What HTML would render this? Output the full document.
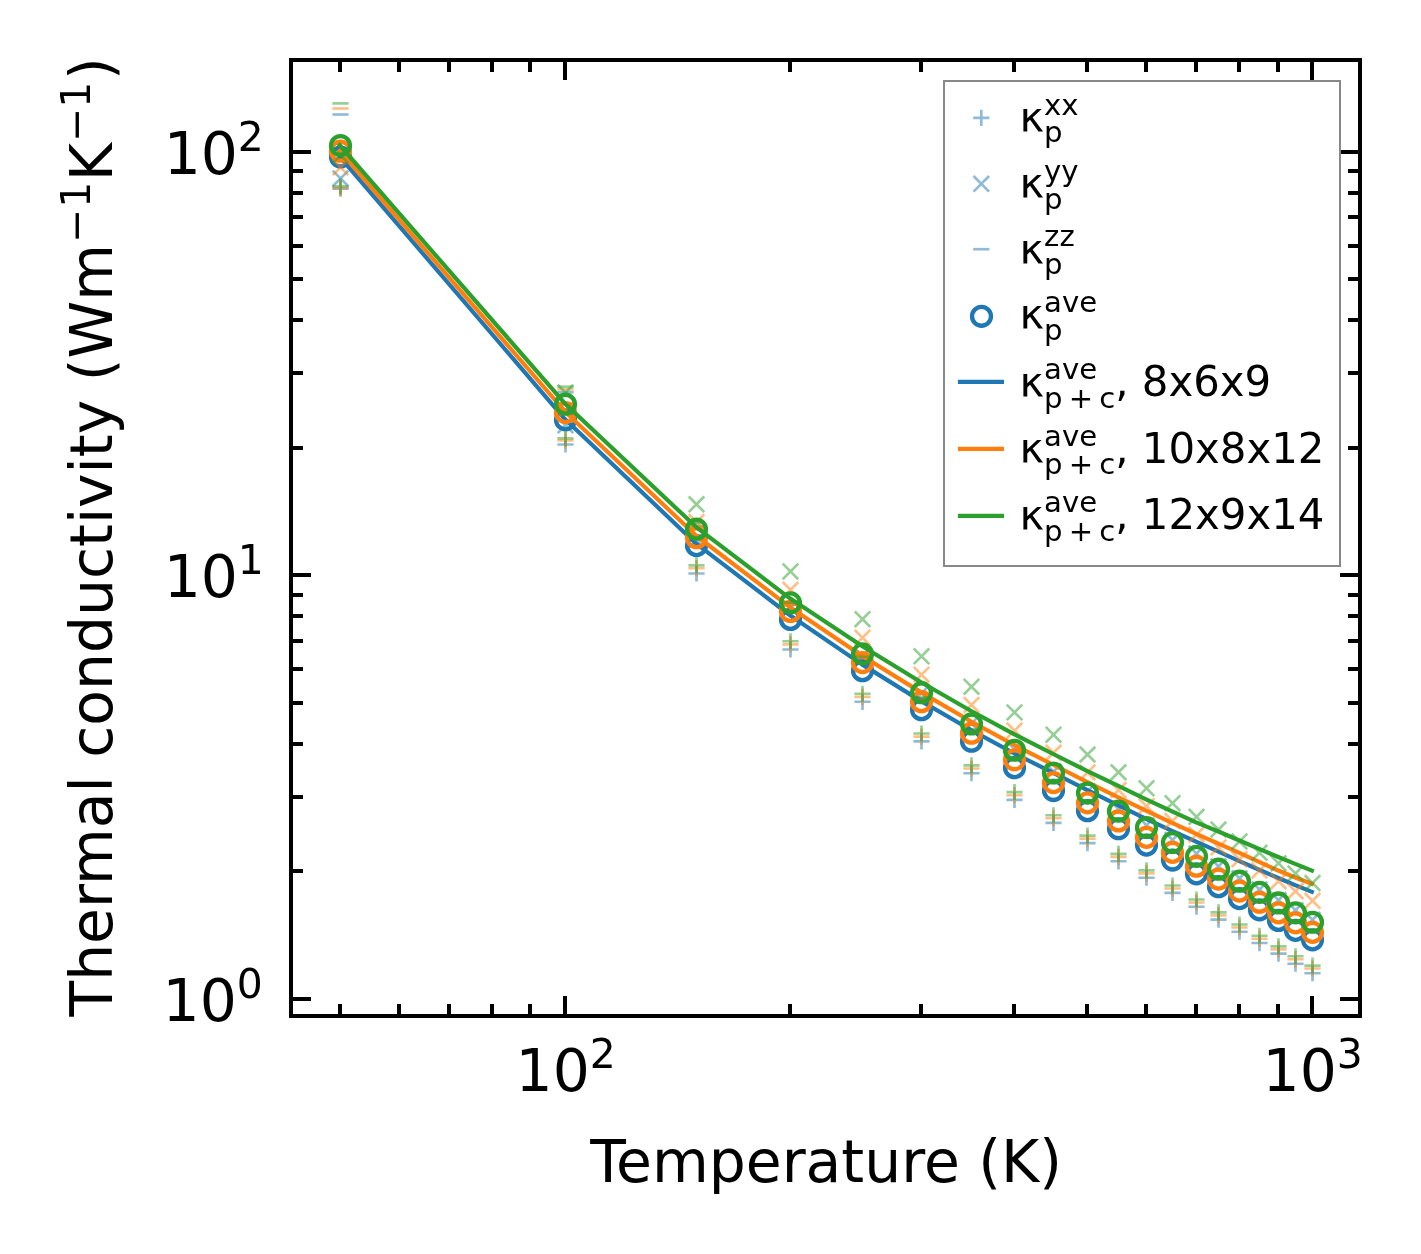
<!DOCTYPE html>
<html><head><meta charset="utf-8"><title>Thermal conductivity</title><style>html,body{margin:0;padding:0;background:#fff}</style></head><body>
<svg width="1421" height="1254" viewBox="0 0 1421 1254" style="display:block">
<rect width="1421" height="1254" fill="#fff"/>
<defs><clipPath id="ax"><rect x="291.0" y="60.0" width="1069.0" height="956.0"/></clipPath></defs>
<g clip-path="url(#ax)">
<g><path d="M332.40 188.60H348.60M340.50 180.50V196.70" stroke="#1f77b4" stroke-width="2.65" stroke-opacity="0.5" fill="none"/><path d="M557.40 444.50H573.60M565.50 436.40V452.60" stroke="#1f77b4" stroke-width="2.65" stroke-opacity="0.5" fill="none"/><path d="M688.40 573.50H704.60M696.50 565.40V581.60" stroke="#1f77b4" stroke-width="2.65" stroke-opacity="0.5" fill="none"/><path d="M782.40 649.45H798.60M790.50 641.35V657.55" stroke="#1f77b4" stroke-width="2.65" stroke-opacity="0.5" fill="none"/><path d="M854.40 701.79H870.60M862.50 693.69V709.89" stroke="#1f77b4" stroke-width="2.65" stroke-opacity="0.5" fill="none"/><path d="M913.40 741.40H929.60M921.50 733.30V749.50" stroke="#1f77b4" stroke-width="2.65" stroke-opacity="0.5" fill="none"/><path d="M963.40 773.22H979.60M971.50 765.12V781.32" stroke="#1f77b4" stroke-width="2.65" stroke-opacity="0.5" fill="none"/><path d="M1006.40 799.88H1022.60M1014.50 791.78V807.98" stroke="#1f77b4" stroke-width="2.65" stroke-opacity="0.5" fill="none"/><path d="M1045.40 822.87H1061.60M1053.50 814.77V830.97" stroke="#1f77b4" stroke-width="2.65" stroke-opacity="0.5" fill="none"/><path d="M1079.40 843.13H1095.60M1087.50 835.03V851.23" stroke="#1f77b4" stroke-width="2.65" stroke-opacity="0.5" fill="none"/><path d="M1110.40 861.28H1126.60M1118.50 853.18V869.38" stroke="#1f77b4" stroke-width="2.65" stroke-opacity="0.5" fill="none"/><path d="M1138.40 877.74H1154.60M1146.50 869.64V885.84" stroke="#1f77b4" stroke-width="2.65" stroke-opacity="0.5" fill="none"/><path d="M1164.40 892.82H1180.60M1172.50 884.72V900.92" stroke="#1f77b4" stroke-width="2.65" stroke-opacity="0.5" fill="none"/><path d="M1188.40 906.74H1204.60M1196.50 898.64V914.84" stroke="#1f77b4" stroke-width="2.65" stroke-opacity="0.5" fill="none"/><path d="M1210.40 919.66H1226.60M1218.50 911.56V927.76" stroke="#1f77b4" stroke-width="2.65" stroke-opacity="0.5" fill="none"/><path d="M1231.40 931.73H1247.60M1239.50 923.63V939.83" stroke="#1f77b4" stroke-width="2.65" stroke-opacity="0.5" fill="none"/><path d="M1251.40 943.04H1267.60M1259.50 934.94V951.14" stroke="#1f77b4" stroke-width="2.65" stroke-opacity="0.5" fill="none"/><path d="M1270.40 953.68H1286.60M1278.50 945.58V961.78" stroke="#1f77b4" stroke-width="2.65" stroke-opacity="0.5" fill="none"/><path d="M1287.40 963.73H1303.60M1295.50 955.63V971.83" stroke="#1f77b4" stroke-width="2.65" stroke-opacity="0.5" fill="none"/><path d="M1304.40 973.23H1320.60M1312.50 965.13V981.33" stroke="#1f77b4" stroke-width="2.65" stroke-opacity="0.5" fill="none"/></g>
<g><path d="M332.70 170.60L348.30 186.20M332.70 186.20L348.30 170.60" stroke="#1f77b4" stroke-width="2.65" stroke-opacity="0.5" fill="none"/><path d="M557.70 417.49L573.30 433.09M557.70 433.09L573.30 417.49" stroke="#1f77b4" stroke-width="2.65" stroke-opacity="0.5" fill="none"/><path d="M688.70 532.09L704.30 547.69M688.70 547.69L704.30 532.09" stroke="#1f77b4" stroke-width="2.65" stroke-opacity="0.5" fill="none"/><path d="M782.70 600.12L798.30 615.72M782.70 615.72L798.30 600.12" stroke="#1f77b4" stroke-width="2.65" stroke-opacity="0.5" fill="none"/><path d="M854.70 648.16L870.30 663.76M854.70 663.76L870.30 648.16" stroke="#1f77b4" stroke-width="2.65" stroke-opacity="0.5" fill="none"/><path d="M913.70 685.32L929.30 700.92M913.70 700.92L929.30 685.32" stroke="#1f77b4" stroke-width="2.65" stroke-opacity="0.5" fill="none"/><path d="M963.70 715.68L979.30 731.28M963.70 731.28L979.30 715.68" stroke="#1f77b4" stroke-width="2.65" stroke-opacity="0.5" fill="none"/><path d="M1006.70 741.39L1022.30 756.99M1006.70 756.99L1022.30 741.39" stroke="#1f77b4" stroke-width="2.65" stroke-opacity="0.5" fill="none"/><path d="M1045.70 763.71L1061.30 779.31M1045.70 779.31L1061.30 763.71" stroke="#1f77b4" stroke-width="2.65" stroke-opacity="0.5" fill="none"/><path d="M1079.70 783.47L1095.30 799.07M1079.70 799.07L1095.30 783.47" stroke="#1f77b4" stroke-width="2.65" stroke-opacity="0.5" fill="none"/><path d="M1110.70 801.22L1126.30 816.82M1110.70 816.82L1126.30 801.22" stroke="#1f77b4" stroke-width="2.65" stroke-opacity="0.5" fill="none"/><path d="M1138.70 817.34L1154.30 832.94M1138.70 832.94L1154.30 817.34" stroke="#1f77b4" stroke-width="2.65" stroke-opacity="0.5" fill="none"/><path d="M1164.70 832.13L1180.30 847.73M1164.70 847.73L1180.30 832.13" stroke="#1f77b4" stroke-width="2.65" stroke-opacity="0.5" fill="none"/><path d="M1188.70 845.80L1204.30 861.40M1188.70 861.40L1204.30 845.80" stroke="#1f77b4" stroke-width="2.65" stroke-opacity="0.5" fill="none"/><path d="M1210.70 858.54L1226.30 874.14M1210.70 874.14L1226.30 858.54" stroke="#1f77b4" stroke-width="2.65" stroke-opacity="0.5" fill="none"/><path d="M1231.70 870.46L1247.30 886.06M1231.70 886.06L1247.30 870.46" stroke="#1f77b4" stroke-width="2.65" stroke-opacity="0.5" fill="none"/><path d="M1251.70 881.69L1267.30 897.29M1251.70 897.29L1267.30 881.69" stroke="#1f77b4" stroke-width="2.65" stroke-opacity="0.5" fill="none"/><path d="M1270.70 892.31L1286.30 907.91M1270.70 907.91L1286.30 892.31" stroke="#1f77b4" stroke-width="2.65" stroke-opacity="0.5" fill="none"/><path d="M1287.70 902.39L1303.30 917.99M1287.70 917.99L1303.30 902.39" stroke="#1f77b4" stroke-width="2.65" stroke-opacity="0.5" fill="none"/><path d="M1304.70 912.01L1320.30 927.61M1304.70 927.61L1320.30 912.01" stroke="#1f77b4" stroke-width="2.65" stroke-opacity="0.5" fill="none"/></g>
<g><path d="M332.40 114.50H348.60" stroke="#1f77b4" stroke-width="2.65" stroke-opacity="0.5" fill="none"/><path d="M557.40 392.30H573.60" stroke="#1f77b4" stroke-width="2.65" stroke-opacity="0.5" fill="none"/><path d="M688.40 526.47H704.60" stroke="#1f77b4" stroke-width="2.65" stroke-opacity="0.5" fill="none"/><path d="M782.40 604.33H798.60" stroke="#1f77b4" stroke-width="2.65" stroke-opacity="0.5" fill="none"/><path d="M854.40 657.89H870.60" stroke="#1f77b4" stroke-width="2.65" stroke-opacity="0.5" fill="none"/><path d="M913.40 698.33H929.60" stroke="#1f77b4" stroke-width="2.65" stroke-opacity="0.5" fill="none"/><path d="M963.40 730.76H979.60" stroke="#1f77b4" stroke-width="2.65" stroke-opacity="0.5" fill="none"/><path d="M1006.40 757.86H1022.60" stroke="#1f77b4" stroke-width="2.65" stroke-opacity="0.5" fill="none"/><path d="M1045.40 781.17H1061.60" stroke="#1f77b4" stroke-width="2.65" stroke-opacity="0.5" fill="none"/><path d="M1079.40 801.65H1095.60" stroke="#1f77b4" stroke-width="2.65" stroke-opacity="0.5" fill="none"/><path d="M1110.40 819.94H1126.60" stroke="#1f77b4" stroke-width="2.65" stroke-opacity="0.5" fill="none"/><path d="M1138.40 836.47H1154.60" stroke="#1f77b4" stroke-width="2.65" stroke-opacity="0.5" fill="none"/><path d="M1164.40 851.55H1180.60" stroke="#1f77b4" stroke-width="2.65" stroke-opacity="0.5" fill="none"/><path d="M1188.40 865.42H1204.60" stroke="#1f77b4" stroke-width="2.65" stroke-opacity="0.5" fill="none"/><path d="M1210.40 878.24H1226.60" stroke="#1f77b4" stroke-width="2.65" stroke-opacity="0.5" fill="none"/><path d="M1231.40 890.17H1247.60" stroke="#1f77b4" stroke-width="2.65" stroke-opacity="0.5" fill="none"/><path d="M1251.40 901.30H1267.60" stroke="#1f77b4" stroke-width="2.65" stroke-opacity="0.5" fill="none"/><path d="M1270.40 911.73H1286.60" stroke="#1f77b4" stroke-width="2.65" stroke-opacity="0.5" fill="none"/><path d="M1287.40 921.53H1303.60" stroke="#1f77b4" stroke-width="2.65" stroke-opacity="0.5" fill="none"/><path d="M1304.40 930.75H1320.60" stroke="#1f77b4" stroke-width="2.65" stroke-opacity="0.5" fill="none"/></g>
<g><circle cx="340.50" cy="157.00" r="9.45" stroke="#1f77b4" stroke-width="4.3" fill="none"/><circle cx="565.50" cy="419.91" r="9.45" stroke="#1f77b4" stroke-width="4.3" fill="none"/><circle cx="696.50" cy="545.58" r="9.45" stroke="#1f77b4" stroke-width="4.3" fill="none"/><circle cx="790.50" cy="619.46" r="9.45" stroke="#1f77b4" stroke-width="4.3" fill="none"/><circle cx="862.50" cy="670.70" r="9.45" stroke="#1f77b4" stroke-width="4.3" fill="none"/><circle cx="921.50" cy="709.71" r="9.45" stroke="#1f77b4" stroke-width="4.3" fill="none"/><circle cx="971.50" cy="741.22" r="9.45" stroke="#1f77b4" stroke-width="4.3" fill="none"/><circle cx="1014.50" cy="767.68" r="9.45" stroke="#1f77b4" stroke-width="4.3" fill="none"/><circle cx="1053.50" cy="790.54" r="9.45" stroke="#1f77b4" stroke-width="4.3" fill="none"/><circle cx="1087.50" cy="810.69" r="9.45" stroke="#1f77b4" stroke-width="4.3" fill="none"/><circle cx="1118.50" cy="828.74" r="9.45" stroke="#1f77b4" stroke-width="4.3" fill="none"/><circle cx="1146.50" cy="845.10" r="9.45" stroke="#1f77b4" stroke-width="4.3" fill="none"/><circle cx="1172.50" cy="860.07" r="9.45" stroke="#1f77b4" stroke-width="4.3" fill="none"/><circle cx="1196.50" cy="873.88" r="9.45" stroke="#1f77b4" stroke-width="4.3" fill="none"/><circle cx="1218.50" cy="886.70" r="9.45" stroke="#1f77b4" stroke-width="4.3" fill="none"/><circle cx="1239.50" cy="898.66" r="9.45" stroke="#1f77b4" stroke-width="4.3" fill="none"/><circle cx="1259.50" cy="909.88" r="9.45" stroke="#1f77b4" stroke-width="4.3" fill="none"/><circle cx="1278.50" cy="920.44" r="9.45" stroke="#1f77b4" stroke-width="4.3" fill="none"/><circle cx="1295.50" cy="930.41" r="9.45" stroke="#1f77b4" stroke-width="4.3" fill="none"/><circle cx="1312.50" cy="939.86" r="9.45" stroke="#1f77b4" stroke-width="4.3" fill="none"/></g>
<polyline points="339.70,156.65 564.63,418.83 696.21,543.68 789.56,615.02 861.97,664.39 921.14,701.13 971.16,730.05 1014.49,753.53 1052.71,772.60 1086.90,789.96 1117.83,805.11 1146.06,818.77 1172.04,830.90 1196.09,841.67 1218.48,851.69 1239.42,861.15 1259.09,869.78 1277.64,877.74 1295.19,885.12 1311.83,891.87" fill="none" stroke="#1f77b4" stroke-width="4.17" stroke-linejoin="round" stroke-linecap="square"/>
<g><path d="M332.40 187.80H348.60M340.50 179.70V195.90" stroke="#ff7f0e" stroke-width="2.65" stroke-opacity="0.5" fill="none"/><path d="M557.40 440.41H573.60M565.50 432.31V448.51" stroke="#ff7f0e" stroke-width="2.65" stroke-opacity="0.5" fill="none"/><path d="M688.40 568.27H704.60M696.50 560.17V576.37" stroke="#ff7f0e" stroke-width="2.65" stroke-opacity="0.5" fill="none"/><path d="M782.40 644.37H798.60M790.50 636.27V652.47" stroke="#ff7f0e" stroke-width="2.65" stroke-opacity="0.5" fill="none"/><path d="M854.40 696.88H870.60M862.50 688.78V704.98" stroke="#ff7f0e" stroke-width="2.65" stroke-opacity="0.5" fill="none"/><path d="M913.40 736.59H929.60M921.50 728.49V744.69" stroke="#ff7f0e" stroke-width="2.65" stroke-opacity="0.5" fill="none"/><path d="M963.40 768.49H979.60M971.50 760.39V776.59" stroke="#ff7f0e" stroke-width="2.65" stroke-opacity="0.5" fill="none"/><path d="M1006.40 795.21H1022.60M1014.50 787.11V803.31" stroke="#ff7f0e" stroke-width="2.65" stroke-opacity="0.5" fill="none"/><path d="M1045.40 818.28H1061.60M1053.50 810.18V826.38" stroke="#ff7f0e" stroke-width="2.65" stroke-opacity="0.5" fill="none"/><path d="M1079.40 838.63H1095.60M1087.50 830.53V846.73" stroke="#ff7f0e" stroke-width="2.65" stroke-opacity="0.5" fill="none"/><path d="M1110.40 856.86H1126.60M1118.50 848.76V864.96" stroke="#ff7f0e" stroke-width="2.65" stroke-opacity="0.5" fill="none"/><path d="M1138.40 873.40H1154.60M1146.50 865.30V881.50" stroke="#ff7f0e" stroke-width="2.65" stroke-opacity="0.5" fill="none"/><path d="M1164.40 888.54H1180.60M1172.50 880.44V896.64" stroke="#ff7f0e" stroke-width="2.65" stroke-opacity="0.5" fill="none"/><path d="M1188.40 902.50H1204.60M1196.50 894.40V910.60" stroke="#ff7f0e" stroke-width="2.65" stroke-opacity="0.5" fill="none"/><path d="M1210.40 915.44H1226.60M1218.50 907.34V923.54" stroke="#ff7f0e" stroke-width="2.65" stroke-opacity="0.5" fill="none"/><path d="M1231.40 927.49H1247.60M1239.50 919.39V935.59" stroke="#ff7f0e" stroke-width="2.65" stroke-opacity="0.5" fill="none"/><path d="M1251.40 938.75H1267.60M1259.50 930.65V946.85" stroke="#ff7f0e" stroke-width="2.65" stroke-opacity="0.5" fill="none"/><path d="M1270.40 949.30H1286.60M1278.50 941.20V957.40" stroke="#ff7f0e" stroke-width="2.65" stroke-opacity="0.5" fill="none"/><path d="M1287.40 959.20H1303.60M1295.50 951.10V967.30" stroke="#ff7f0e" stroke-width="2.65" stroke-opacity="0.5" fill="none"/><path d="M1304.40 968.52H1320.60M1312.50 960.42V976.62" stroke="#ff7f0e" stroke-width="2.65" stroke-opacity="0.5" fill="none"/></g>
<g><path d="M332.70 159.50L348.30 175.10M332.70 175.10L348.30 159.50" stroke="#ff7f0e" stroke-width="2.65" stroke-opacity="0.5" fill="none"/><path d="M557.70 402.19L573.30 417.79M557.70 417.79L573.30 402.19" stroke="#ff7f0e" stroke-width="2.65" stroke-opacity="0.5" fill="none"/><path d="M688.70 514.29L704.30 529.89M688.70 529.89L704.30 514.29" stroke="#ff7f0e" stroke-width="2.65" stroke-opacity="0.5" fill="none"/><path d="M782.70 581.97L798.30 597.57M782.70 597.57L798.30 581.97" stroke="#ff7f0e" stroke-width="2.65" stroke-opacity="0.5" fill="none"/><path d="M854.70 629.89L870.30 645.49M854.70 645.49L870.30 629.89" stroke="#ff7f0e" stroke-width="2.65" stroke-opacity="0.5" fill="none"/><path d="M913.70 666.92L929.30 682.52M913.70 682.52L929.30 666.92" stroke="#ff7f0e" stroke-width="2.65" stroke-opacity="0.5" fill="none"/><path d="M963.70 697.14L979.30 712.74M963.70 712.74L979.30 697.14" stroke="#ff7f0e" stroke-width="2.65" stroke-opacity="0.5" fill="none"/><path d="M1006.70 722.72L1022.30 738.32M1006.70 738.32L1022.30 722.72" stroke="#ff7f0e" stroke-width="2.65" stroke-opacity="0.5" fill="none"/><path d="M1045.70 744.94L1061.30 760.54M1045.70 760.54L1061.30 744.94" stroke="#ff7f0e" stroke-width="2.65" stroke-opacity="0.5" fill="none"/><path d="M1079.70 764.61L1095.30 780.21M1079.70 780.21L1095.30 764.61" stroke="#ff7f0e" stroke-width="2.65" stroke-opacity="0.5" fill="none"/><path d="M1110.70 782.30L1126.30 797.90M1110.70 797.90L1126.30 782.30" stroke="#ff7f0e" stroke-width="2.65" stroke-opacity="0.5" fill="none"/><path d="M1138.70 798.39L1154.30 813.99M1138.70 813.99L1154.30 798.39" stroke="#ff7f0e" stroke-width="2.65" stroke-opacity="0.5" fill="none"/><path d="M1164.70 813.17L1180.30 828.77M1164.70 828.77L1180.30 813.17" stroke="#ff7f0e" stroke-width="2.65" stroke-opacity="0.5" fill="none"/><path d="M1188.70 826.84L1204.30 842.44M1188.70 842.44L1204.30 826.84" stroke="#ff7f0e" stroke-width="2.65" stroke-opacity="0.5" fill="none"/><path d="M1210.70 839.58L1226.30 855.18M1210.70 855.18L1226.30 839.58" stroke="#ff7f0e" stroke-width="2.65" stroke-opacity="0.5" fill="none"/><path d="M1231.70 851.52L1247.30 867.12M1231.70 867.12L1247.30 851.52" stroke="#ff7f0e" stroke-width="2.65" stroke-opacity="0.5" fill="none"/><path d="M1251.70 862.75L1267.30 878.35M1251.70 878.35L1267.30 862.75" stroke="#ff7f0e" stroke-width="2.65" stroke-opacity="0.5" fill="none"/><path d="M1270.70 873.38L1286.30 888.98M1270.70 888.98L1286.30 873.38" stroke="#ff7f0e" stroke-width="2.65" stroke-opacity="0.5" fill="none"/><path d="M1287.70 883.46L1303.30 899.06M1287.70 899.06L1303.30 883.46" stroke="#ff7f0e" stroke-width="2.65" stroke-opacity="0.5" fill="none"/><path d="M1304.70 893.06L1320.30 908.66M1304.70 908.66L1320.30 893.06" stroke="#ff7f0e" stroke-width="2.65" stroke-opacity="0.5" fill="none"/></g>
<g><path d="M332.40 108.50H348.60" stroke="#ff7f0e" stroke-width="2.65" stroke-opacity="0.5" fill="none"/><path d="M557.40 389.40H573.60" stroke="#ff7f0e" stroke-width="2.65" stroke-opacity="0.5" fill="none"/><path d="M688.40 526.30H704.60" stroke="#ff7f0e" stroke-width="2.65" stroke-opacity="0.5" fill="none"/><path d="M782.40 604.43H798.60" stroke="#ff7f0e" stroke-width="2.65" stroke-opacity="0.5" fill="none"/><path d="M854.40 658.18H870.60" stroke="#ff7f0e" stroke-width="2.65" stroke-opacity="0.5" fill="none"/><path d="M913.40 698.93H929.60" stroke="#ff7f0e" stroke-width="2.65" stroke-opacity="0.5" fill="none"/><path d="M963.40 731.70H979.60" stroke="#ff7f0e" stroke-width="2.65" stroke-opacity="0.5" fill="none"/><path d="M1006.40 759.13H1022.60" stroke="#ff7f0e" stroke-width="2.65" stroke-opacity="0.5" fill="none"/><path d="M1045.40 782.73H1061.60" stroke="#ff7f0e" stroke-width="2.65" stroke-opacity="0.5" fill="none"/><path d="M1079.40 802.45H1095.60" stroke="#ff7f0e" stroke-width="2.65" stroke-opacity="0.5" fill="none"/><path d="M1110.40 820.93H1126.60" stroke="#ff7f0e" stroke-width="2.65" stroke-opacity="0.5" fill="none"/><path d="M1138.40 836.60H1154.60" stroke="#ff7f0e" stroke-width="2.65" stroke-opacity="0.5" fill="none"/><path d="M1164.40 851.80H1180.60" stroke="#ff7f0e" stroke-width="2.65" stroke-opacity="0.5" fill="none"/><path d="M1188.40 865.77H1204.60" stroke="#ff7f0e" stroke-width="2.65" stroke-opacity="0.5" fill="none"/><path d="M1210.40 878.69H1226.60" stroke="#ff7f0e" stroke-width="2.65" stroke-opacity="0.5" fill="none"/><path d="M1231.40 890.71H1247.60" stroke="#ff7f0e" stroke-width="2.65" stroke-opacity="0.5" fill="none"/><path d="M1251.40 901.95H1267.60" stroke="#ff7f0e" stroke-width="2.65" stroke-opacity="0.5" fill="none"/><path d="M1270.40 912.50H1286.60" stroke="#ff7f0e" stroke-width="2.65" stroke-opacity="0.5" fill="none"/><path d="M1287.40 922.45H1303.60" stroke="#ff7f0e" stroke-width="2.65" stroke-opacity="0.5" fill="none"/><path d="M1304.40 931.85H1320.60" stroke="#ff7f0e" stroke-width="2.65" stroke-opacity="0.5" fill="none"/></g>
<g><circle cx="340.50" cy="151.20" r="9.45" stroke="#ff7f0e" stroke-width="4.3" fill="none"/><circle cx="565.50" cy="412.63" r="9.45" stroke="#ff7f0e" stroke-width="4.3" fill="none"/><circle cx="696.50" cy="537.73" r="9.45" stroke="#ff7f0e" stroke-width="4.3" fill="none"/><circle cx="790.50" cy="611.44" r="9.45" stroke="#ff7f0e" stroke-width="4.3" fill="none"/><circle cx="862.50" cy="662.64" r="9.45" stroke="#ff7f0e" stroke-width="4.3" fill="none"/><circle cx="921.50" cy="701.68" r="9.45" stroke="#ff7f0e" stroke-width="4.3" fill="none"/><circle cx="971.50" cy="733.22" r="9.45" stroke="#ff7f0e" stroke-width="4.3" fill="none"/><circle cx="1014.50" cy="759.73" r="9.45" stroke="#ff7f0e" stroke-width="4.3" fill="none"/><circle cx="1053.50" cy="782.65" r="9.45" stroke="#ff7f0e" stroke-width="4.3" fill="none"/><circle cx="1087.50" cy="802.85" r="9.45" stroke="#ff7f0e" stroke-width="4.3" fill="none"/><circle cx="1118.50" cy="820.95" r="9.45" stroke="#ff7f0e" stroke-width="4.3" fill="none"/><circle cx="1146.50" cy="837.36" r="9.45" stroke="#ff7f0e" stroke-width="4.3" fill="none"/><circle cx="1172.50" cy="852.38" r="9.45" stroke="#ff7f0e" stroke-width="4.3" fill="none"/><circle cx="1196.50" cy="866.23" r="9.45" stroke="#ff7f0e" stroke-width="4.3" fill="none"/><circle cx="1218.50" cy="879.08" r="9.45" stroke="#ff7f0e" stroke-width="4.3" fill="none"/><circle cx="1239.50" cy="891.08" r="9.45" stroke="#ff7f0e" stroke-width="4.3" fill="none"/><circle cx="1259.50" cy="902.32" r="9.45" stroke="#ff7f0e" stroke-width="4.3" fill="none"/><circle cx="1278.50" cy="912.90" r="9.45" stroke="#ff7f0e" stroke-width="4.3" fill="none"/><circle cx="1295.50" cy="922.89" r="9.45" stroke="#ff7f0e" stroke-width="4.3" fill="none"/><circle cx="1312.50" cy="932.34" r="9.45" stroke="#ff7f0e" stroke-width="4.3" fill="none"/></g>
<polyline points="339.70,150.96 564.63,411.15 696.21,535.74 789.56,606.91 861.97,655.74 921.14,692.39 971.16,721.46 1014.49,745.09 1052.71,764.51 1086.90,781.82 1117.83,797.02 1146.06,810.74 1172.04,822.96 1196.09,833.92 1218.48,843.57 1239.42,852.96 1259.09,861.91 1277.64,870.30 1295.19,877.50 1311.83,883.77" fill="none" stroke="#ff7f0e" stroke-width="4.17" stroke-linejoin="round" stroke-linecap="square"/>
<g><path d="M332.40 186.20H348.60M340.50 178.10V194.30" stroke="#2ca02c" stroke-width="2.65" stroke-opacity="0.5" fill="none"/><path d="M557.40 438.22H573.60M565.50 430.12V446.32" stroke="#2ca02c" stroke-width="2.65" stroke-opacity="0.5" fill="none"/><path d="M688.40 565.30H704.60M696.50 557.20V573.40" stroke="#2ca02c" stroke-width="2.65" stroke-opacity="0.5" fill="none"/><path d="M782.40 641.24H798.60M790.50 633.14V649.34" stroke="#2ca02c" stroke-width="2.65" stroke-opacity="0.5" fill="none"/><path d="M854.40 693.76H870.60M862.50 685.66V701.86" stroke="#2ca02c" stroke-width="2.65" stroke-opacity="0.5" fill="none"/><path d="M913.40 733.50H929.60M921.50 725.40V741.60" stroke="#2ca02c" stroke-width="2.65" stroke-opacity="0.5" fill="none"/><path d="M963.40 765.44H979.60M971.50 757.34V773.54" stroke="#2ca02c" stroke-width="2.65" stroke-opacity="0.5" fill="none"/><path d="M1006.40 792.19H1022.60M1014.50 784.09V800.29" stroke="#2ca02c" stroke-width="2.65" stroke-opacity="0.5" fill="none"/><path d="M1045.40 815.27H1061.60M1053.50 807.17V823.37" stroke="#2ca02c" stroke-width="2.65" stroke-opacity="0.5" fill="none"/><path d="M1079.40 835.62H1095.60M1087.50 827.52V843.72" stroke="#2ca02c" stroke-width="2.65" stroke-opacity="0.5" fill="none"/><path d="M1110.40 853.85H1126.60M1118.50 845.75V861.95" stroke="#2ca02c" stroke-width="2.65" stroke-opacity="0.5" fill="none"/><path d="M1138.40 870.39H1154.60M1146.50 862.29V878.49" stroke="#2ca02c" stroke-width="2.65" stroke-opacity="0.5" fill="none"/><path d="M1164.40 885.52H1180.60M1172.50 877.42V893.62" stroke="#2ca02c" stroke-width="2.65" stroke-opacity="0.5" fill="none"/><path d="M1188.40 899.48H1204.60M1196.50 891.38V907.58" stroke="#2ca02c" stroke-width="2.65" stroke-opacity="0.5" fill="none"/><path d="M1210.40 912.42H1226.60M1218.50 904.32V920.52" stroke="#2ca02c" stroke-width="2.65" stroke-opacity="0.5" fill="none"/><path d="M1231.40 924.48H1247.60M1239.50 916.38V932.58" stroke="#2ca02c" stroke-width="2.65" stroke-opacity="0.5" fill="none"/><path d="M1251.40 935.75H1267.60M1259.50 927.65V943.85" stroke="#2ca02c" stroke-width="2.65" stroke-opacity="0.5" fill="none"/><path d="M1270.40 946.32H1286.60M1278.50 938.22V954.42" stroke="#2ca02c" stroke-width="2.65" stroke-opacity="0.5" fill="none"/><path d="M1287.40 956.25H1303.60M1295.50 948.15V964.35" stroke="#2ca02c" stroke-width="2.65" stroke-opacity="0.5" fill="none"/><path d="M1304.40 965.60H1320.60M1312.50 957.50V973.70" stroke="#2ca02c" stroke-width="2.65" stroke-opacity="0.5" fill="none"/></g>
<g><path d="M332.70 147.50L348.30 163.10M332.70 163.10L348.30 147.50" stroke="#2ca02c" stroke-width="2.65" stroke-opacity="0.5" fill="none"/><path d="M557.70 384.69L573.30 400.29M557.70 400.29L573.30 384.69" stroke="#2ca02c" stroke-width="2.65" stroke-opacity="0.5" fill="none"/><path d="M688.70 496.56L704.30 512.16M688.70 512.16L704.30 496.56" stroke="#2ca02c" stroke-width="2.65" stroke-opacity="0.5" fill="none"/><path d="M782.70 563.66L798.30 579.26M782.70 579.26L798.30 563.66" stroke="#2ca02c" stroke-width="2.65" stroke-opacity="0.5" fill="none"/><path d="M854.70 611.40L870.30 627.00M854.70 627.00L870.30 611.40" stroke="#2ca02c" stroke-width="2.65" stroke-opacity="0.5" fill="none"/><path d="M913.70 648.48L929.30 664.08M913.70 664.08L929.30 648.48" stroke="#2ca02c" stroke-width="2.65" stroke-opacity="0.5" fill="none"/><path d="M963.70 678.84L979.30 694.44M963.70 694.44L979.30 678.84" stroke="#2ca02c" stroke-width="2.65" stroke-opacity="0.5" fill="none"/><path d="M1006.70 704.57L1022.30 720.17M1006.70 720.17L1022.30 704.57" stroke="#2ca02c" stroke-width="2.65" stroke-opacity="0.5" fill="none"/><path d="M1045.70 726.92L1061.30 742.52M1045.70 742.52L1061.30 726.92" stroke="#2ca02c" stroke-width="2.65" stroke-opacity="0.5" fill="none"/><path d="M1079.70 746.69L1095.30 762.29M1079.70 762.29L1095.30 746.69" stroke="#2ca02c" stroke-width="2.65" stroke-opacity="0.5" fill="none"/><path d="M1110.70 764.44L1126.30 780.04M1110.70 780.04L1126.30 764.44" stroke="#2ca02c" stroke-width="2.65" stroke-opacity="0.5" fill="none"/><path d="M1138.70 780.56L1154.30 796.16M1138.70 796.16L1154.30 780.56" stroke="#2ca02c" stroke-width="2.65" stroke-opacity="0.5" fill="none"/><path d="M1164.70 795.34L1180.30 810.94M1164.70 810.94L1180.30 795.34" stroke="#2ca02c" stroke-width="2.65" stroke-opacity="0.5" fill="none"/><path d="M1188.70 809.00L1204.30 824.60M1188.70 824.60L1204.30 809.00" stroke="#2ca02c" stroke-width="2.65" stroke-opacity="0.5" fill="none"/><path d="M1210.70 821.73L1226.30 837.33M1210.70 837.33L1226.30 821.73" stroke="#2ca02c" stroke-width="2.65" stroke-opacity="0.5" fill="none"/><path d="M1231.70 833.64L1247.30 849.24M1231.70 849.24L1247.30 833.64" stroke="#2ca02c" stroke-width="2.65" stroke-opacity="0.5" fill="none"/><path d="M1251.70 844.87L1267.30 860.47M1251.70 860.47L1267.30 844.87" stroke="#2ca02c" stroke-width="2.65" stroke-opacity="0.5" fill="none"/><path d="M1270.70 855.49L1286.30 871.09M1270.70 871.09L1286.30 855.49" stroke="#2ca02c" stroke-width="2.65" stroke-opacity="0.5" fill="none"/><path d="M1287.70 865.59L1303.30 881.19M1287.70 881.19L1303.30 865.59" stroke="#2ca02c" stroke-width="2.65" stroke-opacity="0.5" fill="none"/><path d="M1304.70 875.23L1320.30 890.83M1304.70 890.83L1320.30 875.23" stroke="#2ca02c" stroke-width="2.65" stroke-opacity="0.5" fill="none"/></g>
<g><path d="M332.40 103.40H348.60" stroke="#2ca02c" stroke-width="2.65" stroke-opacity="0.5" fill="none"/><path d="M557.40 386.70H573.60" stroke="#2ca02c" stroke-width="2.65" stroke-opacity="0.5" fill="none"/><path d="M688.40 523.10H704.60" stroke="#2ca02c" stroke-width="2.65" stroke-opacity="0.5" fill="none"/><path d="M782.40 602.62H798.60" stroke="#2ca02c" stroke-width="2.65" stroke-opacity="0.5" fill="none"/><path d="M854.40 656.83H870.60" stroke="#2ca02c" stroke-width="2.65" stroke-opacity="0.5" fill="none"/><path d="M913.40 697.35H929.60" stroke="#2ca02c" stroke-width="2.65" stroke-opacity="0.5" fill="none"/><path d="M963.40 729.24H979.60" stroke="#2ca02c" stroke-width="2.65" stroke-opacity="0.5" fill="none"/><path d="M1006.40 756.87H1022.60" stroke="#2ca02c" stroke-width="2.65" stroke-opacity="0.5" fill="none"/><path d="M1045.40 779.85H1061.60" stroke="#2ca02c" stroke-width="2.65" stroke-opacity="0.5" fill="none"/><path d="M1079.40 800.15H1095.60" stroke="#2ca02c" stroke-width="2.65" stroke-opacity="0.5" fill="none"/><path d="M1110.40 818.38H1126.60" stroke="#2ca02c" stroke-width="2.65" stroke-opacity="0.5" fill="none"/><path d="M1138.40 834.94H1154.60" stroke="#2ca02c" stroke-width="2.65" stroke-opacity="0.5" fill="none"/><path d="M1164.40 850.11H1180.60" stroke="#2ca02c" stroke-width="2.65" stroke-opacity="0.5" fill="none"/><path d="M1188.40 864.09H1204.60" stroke="#2ca02c" stroke-width="2.65" stroke-opacity="0.5" fill="none"/><path d="M1210.40 877.03H1226.60" stroke="#2ca02c" stroke-width="2.65" stroke-opacity="0.5" fill="none"/><path d="M1231.40 889.05H1247.60" stroke="#2ca02c" stroke-width="2.65" stroke-opacity="0.5" fill="none"/><path d="M1251.40 900.22H1267.60" stroke="#2ca02c" stroke-width="2.65" stroke-opacity="0.5" fill="none"/><path d="M1270.40 910.63H1286.60" stroke="#2ca02c" stroke-width="2.65" stroke-opacity="0.5" fill="none"/><path d="M1287.40 920.32H1303.60" stroke="#2ca02c" stroke-width="2.65" stroke-opacity="0.5" fill="none"/><path d="M1304.40 929.36H1320.60" stroke="#2ca02c" stroke-width="2.65" stroke-opacity="0.5" fill="none"/></g>
<g><circle cx="340.50" cy="145.50" r="9.45" stroke="#2ca02c" stroke-width="4.3" fill="none"/><circle cx="565.50" cy="404.20" r="9.45" stroke="#2ca02c" stroke-width="4.3" fill="none"/><circle cx="696.50" cy="529.19" r="9.45" stroke="#2ca02c" stroke-width="4.3" fill="none"/><circle cx="790.50" cy="602.92" r="9.45" stroke="#2ca02c" stroke-width="4.3" fill="none"/><circle cx="862.50" cy="653.92" r="9.45" stroke="#2ca02c" stroke-width="4.3" fill="none"/><circle cx="921.50" cy="692.68" r="9.45" stroke="#2ca02c" stroke-width="4.3" fill="none"/><circle cx="971.50" cy="723.96" r="9.45" stroke="#2ca02c" stroke-width="4.3" fill="none"/><circle cx="1014.50" cy="750.25" r="9.45" stroke="#2ca02c" stroke-width="4.3" fill="none"/><circle cx="1053.50" cy="773.00" r="9.45" stroke="#2ca02c" stroke-width="4.3" fill="none"/><circle cx="1087.50" cy="793.10" r="9.45" stroke="#2ca02c" stroke-width="4.3" fill="none"/><circle cx="1118.50" cy="811.13" r="9.45" stroke="#2ca02c" stroke-width="4.3" fill="none"/><circle cx="1146.50" cy="827.50" r="9.45" stroke="#2ca02c" stroke-width="4.3" fill="none"/><circle cx="1172.50" cy="842.50" r="9.45" stroke="#2ca02c" stroke-width="4.3" fill="none"/><circle cx="1196.50" cy="856.34" r="9.45" stroke="#2ca02c" stroke-width="4.3" fill="none"/><circle cx="1218.50" cy="869.20" r="9.45" stroke="#2ca02c" stroke-width="4.3" fill="none"/><circle cx="1239.50" cy="881.18" r="9.45" stroke="#2ca02c" stroke-width="4.3" fill="none"/><circle cx="1259.50" cy="892.40" r="9.45" stroke="#2ca02c" stroke-width="4.3" fill="none"/><circle cx="1278.50" cy="902.94" r="9.45" stroke="#2ca02c" stroke-width="4.3" fill="none"/><circle cx="1295.50" cy="912.87" r="9.45" stroke="#2ca02c" stroke-width="4.3" fill="none"/><circle cx="1312.50" cy="922.23" r="9.45" stroke="#2ca02c" stroke-width="4.3" fill="none"/></g>
<polyline points="339.70,145.16 564.63,403.22 696.21,527.10 789.56,598.08 861.97,645.92 921.14,682.30 971.16,711.00 1014.49,734.31 1052.71,753.76 1086.90,770.87 1117.83,785.70 1146.06,799.28 1172.04,811.28 1196.09,822.34 1218.48,831.50 1239.42,840.48 1259.09,848.90 1277.64,856.75 1295.19,863.88 1311.83,870.54" fill="none" stroke="#2ca02c" stroke-width="4.17" stroke-linejoin="round" stroke-linecap="square"/>
</g>
<path d="M565.00 1016.0v-20.0M565.00 60.0v20.0M1312.00 1016.0v-20.0M1312.00 60.0v20.0" stroke="#000" stroke-width="4.0" fill="none"/>
<path d="M340.00 1016.0v-12.0M340.00 60.0v12.0M399.00 1016.0v-12.0M399.00 60.0v12.0M449.00 1016.0v-12.0M449.00 60.0v12.0M492.00 1016.0v-12.0M492.00 60.0v12.0M530.00 1016.0v-12.0M530.00 60.0v12.0M790.00 1016.0v-12.0M790.00 60.0v12.0M921.00 1016.0v-12.0M921.00 60.0v12.0M1014.00 1016.0v-12.0M1014.00 60.0v12.0M1087.00 1016.0v-12.0M1087.00 60.0v12.0M1146.00 1016.0v-12.0M1146.00 60.0v12.0M1196.00 1016.0v-12.0M1196.00 60.0v12.0M1239.00 1016.0v-12.0M1239.00 60.0v12.0M1278.00 1016.0v-12.0M1278.00 60.0v12.0" stroke="#000" stroke-width="4.0" fill="none"/>
<path d="M291.0 999.00h20.0M1360.0 999.00h-20.0M291.0 575.00h20.0M1360.0 575.00h-20.0M291.0 152.00h20.0M1360.0 152.00h-20.0" stroke="#000" stroke-width="4.0" fill="none"/>
<path d="M291.0 871.00h12.0M1360.0 871.00h-12.0M291.0 797.00h12.0M1360.0 797.00h-12.0M291.0 744.00h12.0M1360.0 744.00h-12.0M291.0 703.00h12.0M1360.0 703.00h-12.0M291.0 669.00h12.0M1360.0 669.00h-12.0M291.0 641.00h12.0M1360.0 641.00h-12.0M291.0 616.00h12.0M1360.0 616.00h-12.0M291.0 595.00h12.0M1360.0 595.00h-12.0M291.0 448.00h12.0M1360.0 448.00h-12.0M291.0 373.00h12.0M1360.0 373.00h-12.0M291.0 320.00h12.0M1360.0 320.00h-12.0M291.0 279.00h12.0M1360.0 279.00h-12.0M291.0 246.00h12.0M1360.0 246.00h-12.0M291.0 217.00h12.0M1360.0 217.00h-12.0M291.0 193.00h12.0M1360.0 193.00h-12.0M291.0 171.00h12.0M1360.0 171.00h-12.0" stroke="#000" stroke-width="4.0" fill="none"/>
<rect x="291.0" y="60.0" width="1069.0" height="956.0" fill="none" stroke="#000" stroke-width="4.0"/>
<g font-family="'DejaVu Sans', 'Liberation Sans', sans-serif" fill="#000">
<text x="515.60" y="1090.90" font-size="58.33">10</text><text x="589.80" y="1068.00" font-size="40.83">2</text>
<text x="1262.60" y="1090.90" font-size="58.33">10</text><text x="1336.80" y="1068.00" font-size="40.83">3</text>
<text x="163.65" y="174.00" font-size="58.33">10</text><text x="237.85" y="151.10" font-size="40.83">2</text>
<text x="163.65" y="597.00" font-size="58.33">10</text><text x="237.85" y="574.10" font-size="40.83">1</text>
<text x="162.60" y="1021.00" font-size="58.33">10</text><text x="236.80" y="998.10" font-size="40.83">0</text>
<text x="590.3" y="1182.1" font-size="58.33">Temperature (K)</text>
<g transform="translate(112.0 1016.5) rotate(-90)"><text x="0" y="0" font-size="58.33">Thermal conductivity (Wm</text><text x="773.4" y="-22.4" font-size="40.83">−</text><text x="808.7" y="-22.4" font-size="40.83">1</text><text x="835.3" y="0" font-size="58.33">K</text><text x="874.6" y="-22.4" font-size="40.83">−</text><text x="908.7" y="-22.4" font-size="40.83">1</text><text x="936.6" y="0" font-size="58.33">)</text></g>
</g>
<rect x="944" y="81" width="396" height="485" fill="#fff" fill-opacity="0.8" stroke="#888" stroke-width="2"/>
<path d="M973.20 117.90H989.40M981.30 109.80V126.00" stroke="#1f77b4" stroke-width="2.65" stroke-opacity="0.5" fill="none"/>
<path d="M973.50 176.00L989.10 191.60M973.50 191.60L989.10 176.00" stroke="#1f77b4" stroke-width="2.65" stroke-opacity="0.5" fill="none"/>
<path d="M973.20 249.20H989.40" stroke="#1f77b4" stroke-width="2.65" stroke-opacity="0.5" fill="none"/>
<circle cx="981.50" cy="316.30" r="9.45" stroke="#1f77b4" stroke-width="4.3" fill="none"/>
<path d="M957.9 381.8H1004" stroke="#1f77b4" stroke-width="4.17" fill="none"/>
<path d="M957.9 448.8H1004" stroke="#ff7f0e" stroke-width="4.17" fill="none"/>
<path d="M957.9 515.8H1004" stroke="#2ca02c" stroke-width="4.17" fill="none"/>
<g font-family="'DejaVu Sans', 'Liberation Sans', sans-serif" fill="#000">
<text x="1019.6" y="130.90" font-size="41.67">κ</text><text x="1044.1" y="114.50" font-size="29.17">xx</text><text x="1044.1" y="142.40" font-size="29.17">p</text>
<text x="1019.6" y="197.30" font-size="41.67">κ</text><text x="1044.1" y="180.90" font-size="29.17">yy</text><text x="1044.1" y="208.80" font-size="29.17">p</text>
<text x="1019.6" y="262.60" font-size="41.67">κ</text><text x="1044.1" y="246.20" font-size="29.17">zz</text><text x="1044.1" y="274.10" font-size="29.17">p</text>
<text x="1019.6" y="328.40" font-size="41.67">κ</text><text x="1044.1" y="312.00" font-size="29.17">ave</text><text x="1044.1" y="339.90" font-size="29.17">p</text>
<text x="1019.6" y="395.80" font-size="41.67">κ</text><text x="1044.1" y="379.40" font-size="29.17">ave</text><text x="1044.1" y="407.60" font-size="29.17">p</text><text x="1068.8" y="407.60" font-size="29.17">+</text><text x="1099.2" y="407.60" font-size="29.17">c</text><text x="1115.2" y="396.40" font-size="41.85">, 8x6x9</text>
<text x="1019.6" y="461.90" font-size="41.67">κ</text><text x="1044.1" y="445.50" font-size="29.17">ave</text><text x="1044.1" y="473.70" font-size="29.17">p</text><text x="1068.8" y="473.70" font-size="29.17">+</text><text x="1099.2" y="473.70" font-size="29.17">c</text><text x="1115.2" y="462.50" font-size="41.85">, 10x8x12</text>
<text x="1019.6" y="528.70" font-size="41.67">κ</text><text x="1044.1" y="512.30" font-size="29.17">ave</text><text x="1044.1" y="540.50" font-size="29.17">p</text><text x="1068.8" y="540.50" font-size="29.17">+</text><text x="1099.2" y="540.50" font-size="29.17">c</text><text x="1115.2" y="529.30" font-size="41.85">, 12x9x14</text>
</g>
</svg>
</body></html>
